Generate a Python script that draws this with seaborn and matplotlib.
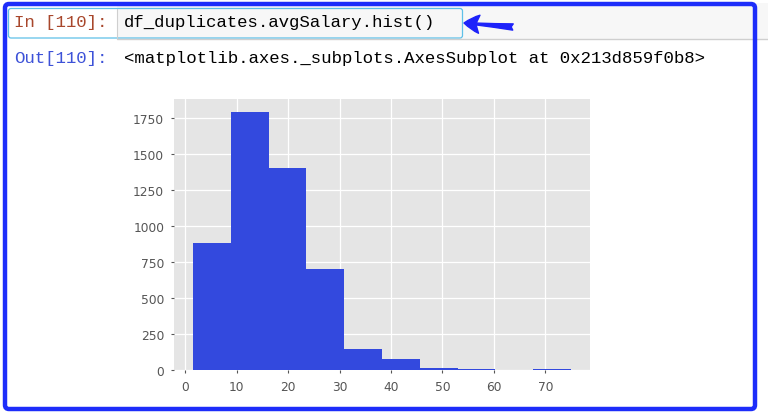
import matplotlib
matplotlib.use("Agg")
import matplotlib.pyplot as plt
import numpy as np
import pandas as pd
import seaborn as sns
from matplotlib.patches import FancyBboxPatch, Rectangle

# avgSalary histogram, values
bin_lo = 1.5
bin_hi = 75.0
counts = [885, 1795, 1405, 700, 144, 74, 14, 5, 0, 5]
x_ticks = [0, 10, 20, 30, 40, 50, 60, 70]
y_ticks = [0, 250, 500, 750, 1000, 1250, 1500, 1750]

# notebook cell texts
in_prompt = "In [110]:"
code_line = "df_duplicates.avgSalary.hist()"
out_prompt = "Out[110]:"
out_line = "<matplotlib.axes._subplots.AxesSubplot at 0x213d859f0b8>"

W, H = 768, 414
mono = "Liberation Mono"

sns.set_style("darkgrid", {"axes.facecolor": "#E5E5E5", "grid.color": "white"})

fig = plt.figure(figsize=(W / 100, H / 100), dpi=100, facecolor="white")

# background layer in pixel coords for the notebook chrome
bg = fig.add_axes([0, 0, 1, 1])
bg.set_xlim(0, W)
bg.set_ylim(H, 0)
bg.axis("off")

bg.add_patch(Rectangle((117, 4), W - 117, 36, fc="#f7f7f7", ec="none"))
bg.plot([117, W], [40, 40], color="#cfcfcf", lw=1.0)
bg.add_patch(Rectangle((8.5, 9.5), 108.5, 29.5, fc="white", ec="none"))
bg.plot([117, 117], [9.5, 39], color="#cfcfcf", lw=0.8)
bg.add_patch(FancyBboxPatch((8.5, 9.5), 454, 29.5,
                            boxstyle="round,pad=0,rounding_size=2.5",
                            fc="none", ec="#5fc0e8", lw=0.9))

bg.text(14, 23, in_prompt, family=mono, fontsize=12.5, color="#a8472c",
        va="center", ha="left")
bg.text(124, 23, code_line, family=mono, fontsize=12.5, color="black",
        va="center", ha="left")
bg.text(14, 58, out_prompt, family=mono, fontsize=12.5, color="#3d52d8",
        va="center", ha="left")
bg.text(124, 58, out_line, family=mono, fontsize=12.5, color="black",
        va="center", ha="left")

bg.annotate("", xy=(464, 24), xytext=(513, 28),
            arrowprops=dict(arrowstyle="fancy,head_length=1.1,head_width=1.3,tail_width=0.45",
                            color="#1d22fa", shrinkA=0, shrinkB=0))

bg.add_patch(FancyBboxPatch((5, 5), 750, 405,
                            boxstyle="round,pad=0,rounding_size=4",
                            fc="none", ec="#1d2dfa", lw=3.2, zorder=5))

# the histogram itself
edges = np.linspace(bin_lo, bin_hi, len(counts) + 1)
hist_df = pd.DataFrame({
    "avgSalary": (edges[:-1] + edges[1:]) / 2,
    "count": counts,
})

ax = fig.add_axes([174 / W, (H - 371) / H, 416 / W, 271 / H])
sns.histplot(data=hist_df, x="avgSalary", weights="count", bins=edges.tolist(), ax=ax,
             color="#3349de", alpha=1, edgecolor="none", linewidth=0)
ax.set_xticks(x_ticks)
ax.set_yticks(y_ticks)
ax.set_xlabel("")
ax.set_ylabel("")
ax.grid(True, color="white", lw=0.9)
ax.set_axisbelow(True)
for s in ax.spines.values():
    s.set_visible(False)
ax.tick_params(axis="both", which="major", labelsize=8.8, labelcolor="#555555",
               color="#555555", length=2.5, width=0.8, direction="out",
               bottom=True, left=True, pad=4.5)

fig.savefig("out.png", dpi=100)
